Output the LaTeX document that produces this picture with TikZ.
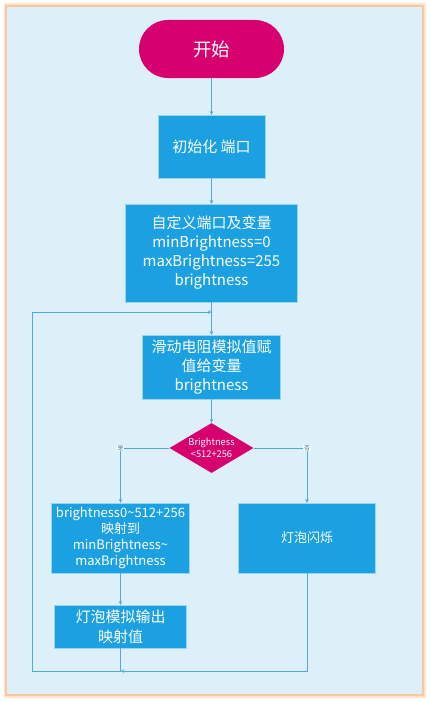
\documentclass[tikz,border=0pt]{standalone}
\usepackage{fontspec}
\setmainfont{Noto Sans CJK SC}
\usetikzlibrary{arrows, shapes.geometric, positioning}
\definecolor{flowblue}{RGB}{27,161,226}
\definecolor{flowpink}{RGB}{214,0,110}
\definecolor{flowline}{RGB}{79,170,219}
\definecolor{flowbg}{RGB}{221,239,249}
\definecolor{flowframe}{RGB}{255,198,156}

\begin{document}
\begin{tikzpicture}[>= stealth, x=1pt, y=-1pt,
                    node distance=100pt, semithick]
\tikzstyle{box}=[shape=rectangle, fill=flowblue, draw=white!55!flowblue, thin,
                    text=white, align=center, inner sep=1pt,
                    font=\fontsize{15pt}{19pt}\selectfont]
\tikzstyle{cond}=[shape=diamond, fill=flowpink, text=white, align=center,
                    inner sep=0pt, aspect=1.68, minimum width=84pt, minimum height=50pt,
                    font=\fontsize{9.3pt}{11.5pt}\selectfont]
\tikzstyle{flow}=[color=flowline, line width=0.7pt]
\tikzstyle{lbl}=[fill=white, inner sep=0.8pt, text=flowline!70!black,
                    font=\fontsize{6pt}{6pt}\selectfont]
  \useasboundingbox (0,0) rectangle (429,701);
  % frame
  \draw[flowframe!45, line width=5pt] (6,6) rectangle (423,695);
  \draw[flowframe, fill=flowbg, line width=2.5pt] (6,6) rectangle (423,695);

  \node[box, fill=flowpink, draw=none, rounded corners=29pt, minimum width=145pt,
        minimum height=58pt, font=\fontsize{18.5pt}{20pt}\selectfont] (start) at (211.5,49) {开始};
  \node[box, minimum width=107pt, minimum height=63pt] (init) [below of=start, node distance=97.5pt] {初始化 端口};
  \node[box, minimum width=172pt, minimum height=98pt] (def)  [below of=init, node distance=106.5pt]
        {自定义端口及变量\\minBrightness=0\\maxBrightness=255\\brightness};
  \node[box, minimum width=138pt, minimum height=64pt] (read) [below of=def, node distance=114pt]
        {滑动电阻模拟值赋\\值给变量\\brightness};
  \node[cond] (check) [below of=read, node distance=81pt] {Brightness\\<512+256};
  \node[box, minimum width=138pt, minimum height=70pt, font=\fontsize{13pt}{16pt}\selectfont] (map)
        [below of=check, node distance=90pt, xshift=-91pt]
        {brightness0\textasciitilde512+256\\映射到\\minBrightness\textasciitilde\\maxBrightness};
  \node[box, minimum width=137pt, minimum height=70pt, font=\fontsize{13pt}{16pt}\selectfont] (blink)
        [below of=check, node distance=90pt, xshift=95.5pt] {灯泡闪烁};
  \node[box, minimum width=132pt, minimum height=43pt, font=\fontsize{15pt}{20pt}\selectfont] (out)
        [below of=map, node distance=88.5pt] {灯泡模拟输出\\映射值};

  \coordinate (loopL) at (32,671);
  \coordinate (loopT) at (32,312);
  \coordinate (merge) at (out.south |- loopL);

  \path[flow, ->] (start) edge (init);
  \path[flow, ->] (init)  edge (def);
  \path[flow, ->] (def)   edge (read);
  \path[flow, ->] (read)  edge (check);
  \draw[flow, ->] (check.west) -| node[lbl] {是} (map.north);
  \draw[flow, ->] (check.east) -| node[lbl] {否} (blink.north);
  \path[flow, ->] (map)   edge (out);
  \draw[flow] (out) -- (merge);
  \draw[flow, ->] (blink) |- (merge);
  \draw[flow, ->] (merge) -- (loopL) -- (loopT) -- (loopT -| read.north);
\end{tikzpicture}
\end{document}
